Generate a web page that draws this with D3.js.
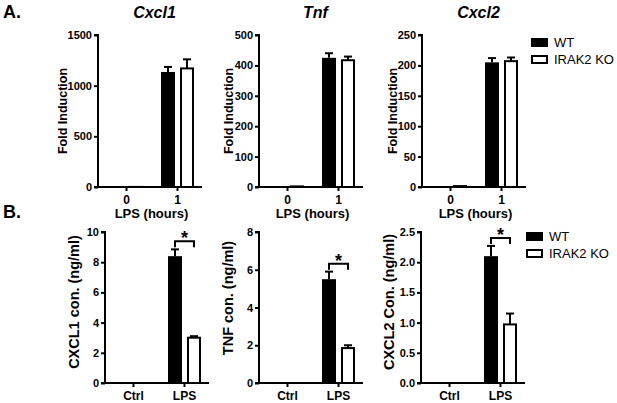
<!DOCTYPE html>
<html>
<head>
  <script src="https://d3js.org/d3.v7.min.js"></script>
  <style>
    body { margin: 0; background: white; }
    svg { display: block; font-family: "Liberation Sans", Arial, sans-serif; }
    .axis path, .axis line { stroke: #000; stroke-width: 2px; }
    .axis text { font-size: 11px; font-weight: bold; fill: #000; }
    .cat text { font-size: 12px; }
  </style>
</head>
<body>
  <svg id="chart" width="617" height="403"></svg>
  <script>
    // ---- data ----
    const hourCats = ['0', '1'];
    const lpsCats = ['Ctrl', 'LPS'];
    const seriesNames = ['WT', 'IRAK2 KO'];

    // A. mRNA fold induction
    const cxcl1WT = [1, 1135], cxcl1WTErr = [0, 50];
    const cxcl1KO = [1, 1170], cxcl1KOErr = [0, 90];
    const tnfWT = [2, 425], tnfWTErr = [0, 15];
    const tnfKO = [2, 417], tnfKOErr = [0, 12];
    const cxcl2WT = [1.5, 205], cxcl2WTErr = [0, 7];
    const cxcl2KO = [1.5, 207], cxcl2KOErr = [0, 6];

    // B. protein concentration (ng/ml)
    const cxcl1ProtWT = [0, 8.4], cxcl1ProtWTErr = [0, 0.45];
    const cxcl1ProtKO = [0, 3.0], cxcl1ProtKOErr = [0, 0.1];
    const tnfProtWT = [0, 5.5], tnfProtWTErr = [0, 0.4];
    const tnfProtKO = [0, 1.85], tnfProtKOErr = [0, 0.15];
    const cxcl2ProtWT = [0, 2.1], cxcl2ProtWTErr = [0, 0.17];
    const cxcl2ProtKO = [0, 0.97], cxcl2ProtKOErr = [0, 0.18];

    const cxcl1Ticks = [0, 500, 1000, 1500];
    const tnfTicks = [0, 100, 200, 300, 400, 500];
    const cxcl2Ticks = [0, 50, 100, 150, 200, 250];
    const cxcl1ProtTicks = [0, 2, 4, 6, 8, 10];
    const tnfProtTicks = [0, 2, 4, 6, 8];
    const cxcl2ProtTicks = [0, 0.5, 1.0, 1.5, 2.0, 2.5];

    const svg = d3.select('#chart');

    function drawPanel(p) {
      const y = d3.scaleLinear()
        .domain([0, d3.max(p.ticks)])
        .range([p.bottom, p.top]);
      const x = d3.scalePoint()
        .domain(p.cats)
        .range([p.x0 + 28, p.x0 + 79]);

      const g = svg.append('g');

      // bars (WT black, KO white outlined)
      p.cats.forEach((c, i) => {
        const cx = x(c);
        const wtTop = y(p.wt[i]);
        const koTop = y(p.ko[i]);
        // error bars first so the bar covers the lower half
        [[cx - 9, p.wt[i], p.wtErr[i]], [cx + 10, p.ko[i], p.koErr[i]]].forEach(([ex, v, e]) => {
          if (!e) return;
          g.append('line').attr('x1', ex).attr('x2', ex)
            .attr('y1', y(v)).attr('y2', y(v + e))
            .attr('stroke', '#000').attr('stroke-width', 2);
          g.append('line').attr('x1', ex - 4).attr('x2', ex + 4)
            .attr('y1', y(v + e)).attr('y2', y(v + e))
            .attr('stroke', '#000').attr('stroke-width', 2);
        });
        g.append('rect')
          .attr('x', cx - 16).attr('width', 14)
          .attr('y', wtTop).attr('height', p.bottom - wtTop)
          .attr('fill', '#000');
        if (p.ko[i] > 0) {
          g.append('rect')
            .attr('x', cx + 4).attr('width', 12)
            .attr('y', koTop).attr('height', Math.max(0, p.bottom - koTop))
            .attr('fill', '#fff').attr('stroke', '#000').attr('stroke-width', 2);
        }
      });

      // y axis
      g.append('g')
        .attr('class', 'axis')
        .attr('transform', `translate(${p.x0},0)`)
        .call(d3.axisLeft(y).tickValues(p.ticks).tickSize(4).tickPadding(2)
          .tickFormat(p.fmt ? d3.format(p.fmt) : d3.format('d')))
        .call(a => a.select('.domain').attr('d', `M-4,${p.bottom}H0V${p.top}H-4`));

      // x axis
      g.append('g')
        .attr('class', 'axis cat')
        .attr('transform', `translate(0,${p.bottom})`)
        .call(d3.axisBottom(x).tickSize(4).tickPadding(4))
        .call(a => a.select('.domain').attr('d', `M${p.x0},0H${p.x0 + 104}`));

      // y label
      g.append('text')
        .attr('transform', `translate(${p.x0 - p.labelOff},${p.labelY}) rotate(-90)`)
        .attr('text-anchor', 'middle')
        .attr('font-size', p.labelSize)
        .attr('font-weight', 'bold')
        .text(p.ylabel);

      if (p.title) {
        g.append('text')
          .attr('x', (x(p.cats[0]) + x(p.cats[1])) / 2 + 3)
          .attr('y', 18)
          .attr('text-anchor', 'middle')
          .attr('font-size', 16)
          .attr('font-weight', 'bold')
          .attr('font-style', 'italic')
          .text(p.title);
      }
      if (p.xlabel) {
        g.append('text')
          .attr('x', (x(p.cats[0]) + x(p.cats[1])) / 2)
          .attr('y', p.bottom + 31)
          .attr('text-anchor', 'middle')
          .attr('font-size', 13)
          .attr('font-weight', 'bold')
          .text(p.xlabel);
      }
      if (p.sig) {
        const x1 = x(p.cats[1]) - 9, x2 = x(p.cats[1]) + 10;
        const by = y(p.wt[1] + p.wtErr[1]) - 8;
        g.append('path')
          .attr('d', `M${x1},${by + 6}V${by}H${x2}V${by + 6}`)
          .attr('fill', 'none').attr('stroke', '#000').attr('stroke-width', 2);
        g.append('text')
          .attr('x', (x1 + x2) / 2).attr('y', by + 3)
          .attr('text-anchor', 'middle')
          .attr('font-size', 18).attr('font-weight', 'bold')
          .text('*');
      }
    }

    function drawLegend(lx, ly) {
      const g = svg.append('g');
      seriesNames.forEach((name, i) => {
        const yy = ly + i * 17;
        g.append('rect')
          .attr('x', lx + (i ? 1 : 0)).attr('y', yy + (i ? 1 : 0))
          .attr('width', i ? 15 : 17).attr('height', i ? 7 : 9)
          .attr('fill', i ? '#fff' : '#000')
          .attr('stroke', i ? '#000' : 'none').attr('stroke-width', 2);
        g.append('text')
          .attr('x', lx + 23).attr('y', yy + 9)
          .attr('font-size', 13)
          .text(name);
      });
    }

    const aTop = 35, aBottom = 187, bTop = 232, bBottom = 383;

    drawPanel({ x0: 98, top: aTop, bottom: aBottom, cats: hourCats, ticks: cxcl1Ticks,
      wt: cxcl1WT, wtErr: cxcl1WTErr, ko: cxcl1KO, koErr: cxcl1KOErr,
      ylabel: 'Fold Induction', labelOff: 31, labelY: 111, labelSize: 12.5,
      title: 'Cxcl1', xlabel: 'LPS (hours)' });
    drawPanel({ x0: 259, top: aTop, bottom: aBottom, cats: hourCats, ticks: tnfTicks,
      wt: tnfWT, wtErr: tnfWTErr, ko: tnfKO, koErr: tnfKOErr,
      ylabel: 'Fold Induction', labelOff: 26, labelY: 111, labelSize: 12.5,
      title: 'Tnf', xlabel: 'LPS (hours)' });
    drawPanel({ x0: 422, top: aTop, bottom: aBottom, cats: hourCats, ticks: cxcl2Ticks,
      wt: cxcl2WT, wtErr: cxcl2WTErr, ko: cxcl2KO, koErr: cxcl2KOErr,
      ylabel: 'Fold Induction', labelOff: 25, labelY: 111, labelSize: 12.5,
      title: 'Cxcl2', xlabel: 'LPS (hours)' });

    drawPanel({ x0: 105, top: bTop, bottom: bBottom, cats: lpsCats, ticks: cxcl1ProtTicks,
      wt: cxcl1ProtWT, wtErr: cxcl1ProtWTErr, ko: cxcl1ProtKO, koErr: cxcl1ProtKOErr,
      ylabel: 'CXCL1 con. (ng/ml)', labelOff: 26, labelY: 302, labelSize: 14.5, sig: true });
    drawPanel({ x0: 259, top: bTop, bottom: bBottom, cats: lpsCats, ticks: tnfProtTicks,
      wt: tnfProtWT, wtErr: tnfProtWTErr, ko: tnfProtKO, koErr: tnfProtKOErr,
      ylabel: 'TNF con. (ng/ml)', labelOff: 26, labelY: 298, labelSize: 14.5, sig: true });
    drawPanel({ x0: 421, top: bTop, bottom: bBottom, cats: lpsCats, ticks: cxcl2ProtTicks,
      wt: cxcl2ProtWT, wtErr: cxcl2ProtWTErr, ko: cxcl2ProtKO, koErr: cxcl2ProtKOErr,
      ylabel: 'CXCL2 Con. (ng/ml)', labelOff: 27, labelY: 302, labelSize: 14.5, sig: true, fmt: '.1f' });

    drawLegend(531, 38);
    drawLegend(526, 232);

    svg.append('text').attr('x', 3).attr('y', 18)
      .attr('font-size', 18).attr('font-weight', 'bold').text('A.');
    svg.append('text').attr('x', 3).attr('y', 218)
      .attr('font-size', 18).attr('font-weight', 'bold').text('B.');
  </script>
</body>
</html>
